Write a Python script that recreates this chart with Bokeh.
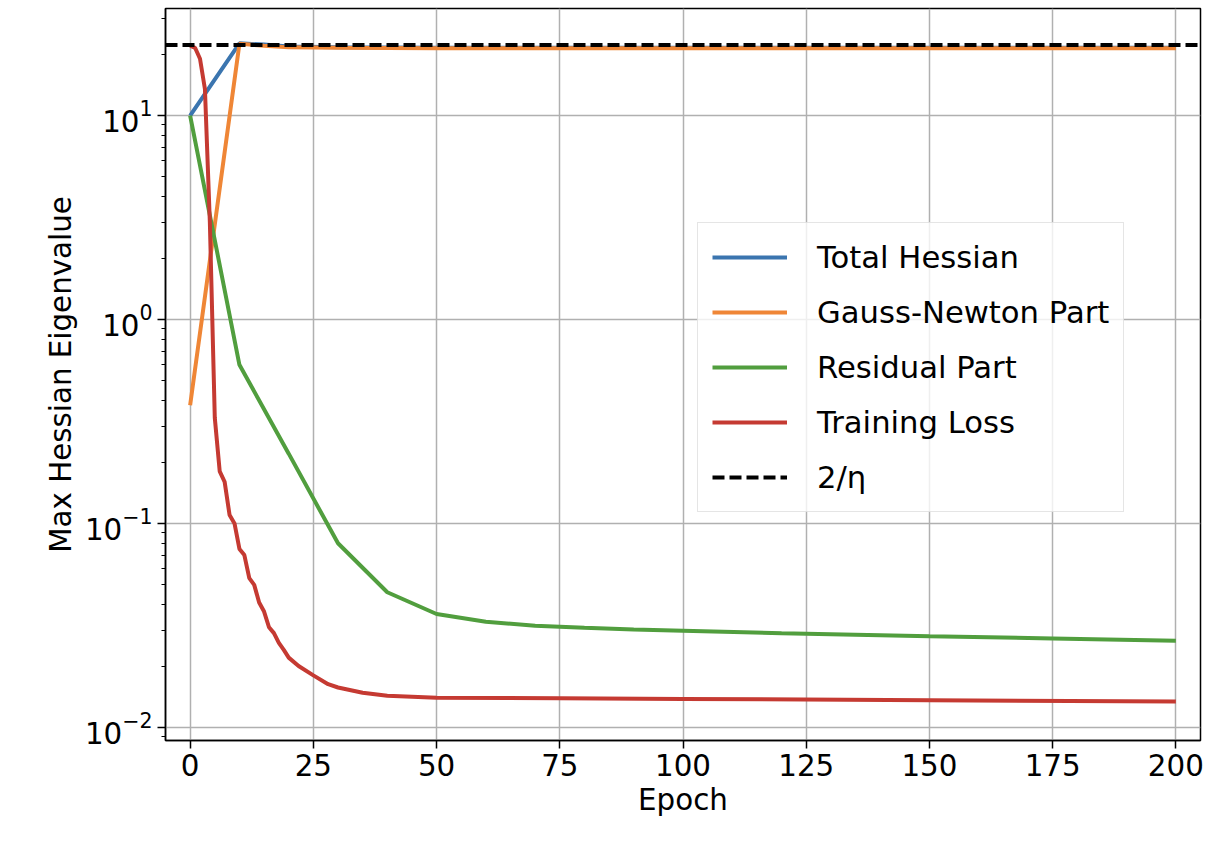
from bokeh.plotting import figure
from bokeh.models import FixedTicker, LogTickFormatter, Legend, LegendItem, Range1d
from bokeh.embed import file_html
from bokeh.resources import INLINE

th_x = [0, 10, 15, 20, 30, 50, 100, 150, 200]
th_y = [10.0, 22.6, 22.3, 21.8, 21.6, 21.5, 21.5, 21.5, 21.5]
gn_x = [0, 10, 15, 20, 30, 50, 100, 150, 200]
gn_y = [0.38, 22.5, 22.0, 21.6, 21.5, 21.4, 21.4, 21.4, 21.4]
rp_x = [0, 10, 20, 30, 40, 50, 60, 70, 80, 90, 100, 120, 150, 175, 200]
rp_y = [10.0, 0.6, 0.22, 0.08, 0.046, 0.036, 0.033, 0.0315, 0.0308, 0.0302, 0.0298, 0.029, 0.028, 0.0273, 0.0266]
tl_x = [0, 1, 2, 3, 4, 5, 6, 7, 8, 9, 10, 11, 12, 13, 14, 15, 16, 17, 18, 19, 20,
        22, 25, 28, 30, 35, 40, 50, 75, 100, 150, 200]
tl_y = [22.0, 21.5, 19.0, 13.5, 3.0, 0.33, 0.18, 0.16, 0.11, 0.1, 0.075, 0.07, 0.054,
        0.05, 0.041, 0.037, 0.031, 0.029, 0.026, 0.024, 0.022, 0.020, 0.018, 0.0163,
        0.0157, 0.0148, 0.0143, 0.0140, 0.0139, 0.0138, 0.0136, 0.0134]
thresh = 22.2

p = figure(frame_width=1035, frame_height=732, y_axis_type="log",
           output_backend="svg", toolbar_location=None,
           min_border_left=165, min_border_top=8, min_border_right=12, min_border_bottom=90)
p.x_range = Range1d(-5, 205)
p.y_range = Range1d(0.00863, 33.5)

font = "DejaVu Sans"
lw = 4
r1 = p.line(th_x, th_y, line_width=lw, color="#3b75af")
r2 = p.line(gn_x, gn_y, line_width=lw, color="#ef8636")
r3 = p.line(rp_x, rp_y, line_width=lw, color="#519e3e")
r4 = p.line(tl_x, tl_y, line_width=lw, color="#c53a32")
r5 = p.line([-5, 205], [thresh, thresh], line_width=lw, color="black", line_dash="12 5")

legend = Legend(items=[LegendItem(label="Total Hessian", renderers=[r1]),
                       LegendItem(label="Gauss-Newton Part", renderers=[r2]),
                       LegendItem(label="Residual Part", renderers=[r3]),
                       LegendItem(label="Training Loss", renderers=[r4]),
                       LegendItem(label="2/η", renderers=[r5])],
                location=(532, 228))
legend.label_text_font = font
legend.label_text_font_size = "23pt"
legend.label_text_color = "black"
legend.label_height = 40
legend.glyph_width = 75
legend.label_standoff = 30
legend.spacing = 15
legend.padding = 14
legend.border_line_color = "#cccccc"
legend.border_line_width = 1.5
legend.background_fill_alpha = 0.8
p.add_layout(legend, "center")

p.xaxis.ticker = FixedTicker(ticks=[0, 25, 50, 75, 100, 125, 150, 175, 200])
p.yaxis.ticker = FixedTicker(ticks=[0.01, 0.1, 1, 10],
                             minor_ticks=[a * 10.0**e for e in range(-3, 2) for a in range(2, 10)])
p.yaxis.formatter = LogTickFormatter()
for ax in (p.xaxis[0], p.yaxis[0]):
    ax.major_label_text_font = font
    ax.major_label_text_font_size = "22pt"
    ax.major_label_text_color = "black"
    ax.axis_label_text_font = font
    ax.axis_label_text_font_size = "22pt"
    ax.axis_label_text_color = "black"
    ax.axis_label_text_font_style = "normal"
    ax.axis_line_width = 1.5
    ax.major_tick_line_width = 1.5
    ax.major_tick_out = 8
    ax.major_tick_in = 0
    ax.minor_tick_out = 4
    ax.minor_tick_in = 0
    ax.axis_label_standoff = 4
p.xaxis.minor_tick_line_color = None
p.xaxis.axis_label = "Epoch"
p.yaxis.axis_label = "Max Hessian Eigenvalue"
p.grid.grid_line_color = "#b0b0b0"
p.grid.grid_line_width = 1.5
p.outline_line_color = "black"
p.outline_line_width = 1.5

open("out.html", "w").write(file_html(p, INLINE))
